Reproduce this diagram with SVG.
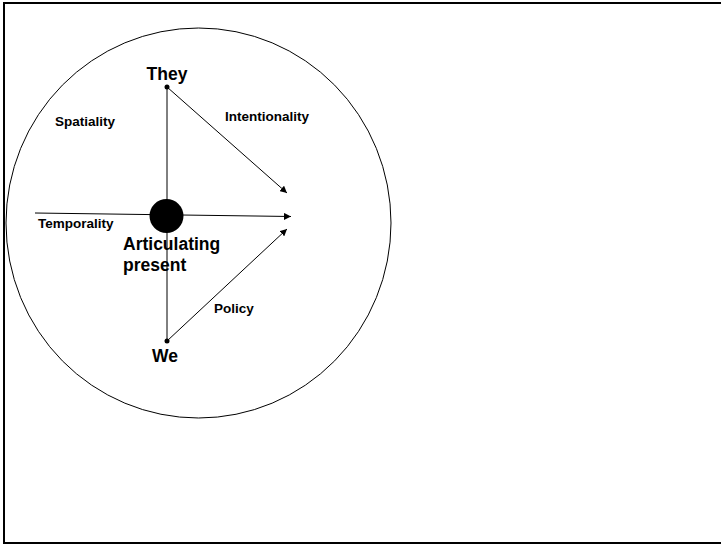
<svg xmlns="http://www.w3.org/2000/svg" width="721" height="545" viewBox="0 0 721 545">
  <style>
    .lbl { font-family: "Liberation Sans", Arial, sans-serif; font-weight: bold; fill: #000; }
    .sm { font-size: 13.5px; }
    .lg { font-size: 17.5px; }
    .ln { stroke: #000; stroke-width: 1; fill: none; }
  </style>
  <defs>
    <marker id="arrow" viewBox="0 0 10 10" refX="10" refY="5" markerWidth="7" markerHeight="7" markerUnits="userSpaceOnUse" orient="auto">
      <path d="M0,0 L10,5 L0,10 z" fill="#000"/>
    </marker>
  </defs>

  <rect x="0" y="0" width="721" height="545" fill="#fff"/>
  <!-- page frame: left, top and bottom edges (right edge falls outside the page) -->
  <path id="frame" d="M721,3 H4 V543 H721" fill="none" stroke="#000" stroke-width="2"/>

  <!-- outer circle -->
  <ellipse id="boundary" cx="198.5" cy="223" rx="192.5" ry="195" fill="none" stroke="#000" stroke-width="1"/>

  <g id="connectors">
    <line class="ln" x1="167" y1="87" x2="167" y2="341"/>
    <line class="ln" x1="35" y1="213" x2="291" y2="216.5" marker-end="url(#arrow)"/>
    <line class="ln" x1="167" y1="87" x2="287" y2="193" marker-end="url(#arrow)"/>
    <line class="ln" x1="167" y1="341" x2="287" y2="229" marker-end="url(#arrow)"/>
  </g>

  <g id="present">
    <circle cx="166.5" cy="216" r="17" fill="#000"/>
    <text class="lbl lg" x="123" y="250">Articulating</text>
    <text class="lbl lg" x="123" y="270.5">present</text>
  </g>

  <g id="they">
    <circle cx="167" cy="87" r="2.5" fill="#000"/>
    <text class="lbl lg" x="167" y="80" text-anchor="middle">They</text>
  </g>

  <g id="we">
    <circle cx="167" cy="341" r="2.5" fill="#000"/>
    <text class="lbl lg" x="165" y="361.5" text-anchor="middle">We</text>
  </g>

  <g id="spatiality">
    <text class="lbl sm" x="55" y="126">Spatiality</text>
  </g>
  <g id="intentionality">
    <text class="lbl sm" x="225" y="121">Intentionality</text>
  </g>
  <g id="temporality">
    <text class="lbl sm" x="38" y="228">Temporality</text>
  </g>
  <g id="policy">
    <text class="lbl sm" x="214" y="313">Policy</text>
  </g>
</svg>
